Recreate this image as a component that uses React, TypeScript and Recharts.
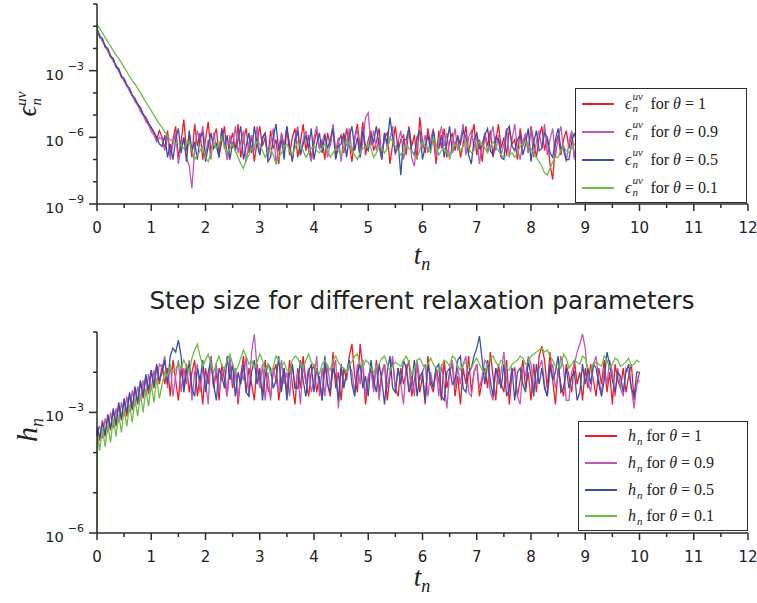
import { Legend, Line, LineChart, XAxis, YAxis } from 'recharts';

// time grid shared by every series (t_n)
const tn = [
  0, 0.01, 0.05, 0.1, 0.15, 0.2, 0.25, 0.3, 0.35, 0.4, 0.45, 0.5, 0.55, 0.6, 0.65, 0.7, 0.75, 0.8, 0.85, 0.9, 0.95, 1.0, 1.05, 1.1, 1.15,
  1.2, 1.25, 1.3, 1.35, 1.4, 1.45, 1.5, 1.55, 1.6, 1.65,
  1.7, 1.75, 1.8, 1.85, 1.9, 1.95, 2.0, 2.05, 2.1, 2.15,
  2.2, 2.25, 2.3, 2.35, 2.4, 2.45, 2.5, 2.55, 2.6, 2.65,
  2.7, 2.75, 2.8, 2.85, 2.9, 2.95, 3.0, 3.05, 3.1, 3.15,
  3.2, 3.25, 3.3, 3.35, 3.4, 3.45, 3.5, 3.55, 3.6, 3.65,
  3.7, 3.75, 3.8, 3.85, 3.9, 3.95, 4.0, 4.05, 4.1, 4.15,
  4.2, 4.25, 4.3, 4.35, 4.4, 4.45, 4.5, 4.55, 4.6, 4.65,
  4.7, 4.75, 4.8, 4.85, 4.9, 4.95, 5.0, 5.05, 5.1, 5.15,
  5.2, 5.25, 5.3, 5.35, 5.4, 5.45, 5.5, 5.55, 5.6, 5.65,
  5.7, 5.75, 5.8, 5.85, 5.9, 5.95, 6.0, 6.05, 6.1, 6.15,
  6.2, 6.25, 6.3, 6.35, 6.4, 6.45, 6.5, 6.55, 6.6, 6.65,
  6.7, 6.75, 6.8, 6.85, 6.9, 6.95, 7.0, 7.05, 7.1, 7.15,
  7.2, 7.25, 7.3, 7.35, 7.4, 7.45, 7.5, 7.55, 7.6, 7.65,
  7.7, 7.75, 7.8, 7.85, 7.9, 7.95, 8.0, 8.05, 8.1, 8.15,
  8.2, 8.25, 8.3, 8.35, 8.4, 8.45, 8.5, 8.55, 8.6, 8.65,
  8.7, 8.75, 8.8, 8.85, 8.9, 8.95, 9.0, 9.05, 9.1, 9.15,
  9.2, 9.25, 9.3, 9.35, 9.4, 9.45, 9.5, 9.55, 9.6, 9.65,
  9.7, 9.75, 9.8, 9.85, 9.9, 9.95, 10.0,
];

// log10 of eps_n^uv
const errTheta1 = [
  -1.2, -1.2, -1.5, -1.6, -1.95, -2.05, -2.4, -2.5, -2.85, -2.95, -3.3, -3.4, -3.7, -3.85, -4.15, -4.3, -4.55, -4.7, -5.0, -5.15, -5.4, -5.6, -5.8, -6.1, -5.7,
  -6.0, -6.5, -5.7, -6.8, -6.1, -5.5, -6.9, -6.2, -5.2, -6.6,
  -5.9, -6.9, -5.4, -6.4, -5.8, -7.0, -6.1, -5.3, -6.7, -6.0,
  -5.6, -6.8, -6.2, -5.5, -7.0, -6.3, -5.8, -6.6, -5.4, -6.9,
  -6.1, -5.6, -6.7, -5.9, -7.1, -6.2, -5.5, -6.4, -6.0, -6.9,
  -5.7, -6.5, -6.1, -7.2, -5.8, -6.4, -5.5, -6.8, -6.0, -5.6,
  -6.9, -6.2, -5.4, -6.6, -5.9, -7.0, -6.3, -5.7, -6.5, -6.1,
  -7.0, -5.8, -6.4, -5.5, -6.9, -6.2, -5.9, -6.7, -5.6, -6.3,
  -7.1, -6.0, -5.4, -6.5, -5.3, -6.8, -6.1, -5.7, -6.6, -6.2,
  -5.6, -6.9, -6.0, -5.8, -7.2, -6.3, -5.5, -6.6, -6.1, -5.9,
  -6.8, -5.5, -6.4, -5.9, -7.0, -5.1, -6.2, -6.7, -5.6, -6.4,
  -6.0, -7.2, -5.7, -6.5, -5.6, -6.9, -6.2, -5.8, -6.6, -5.9,
  -6.9, -6.3, -5.5, -6.7, -6.0, -5.4, -6.8, -6.1, -7.1, -5.8,
  -6.4, -5.7, -6.9, -6.2, -5.4, -6.5, -6.0, -6.8, -5.6, -6.3,
  -6.1, -7.0, -5.6, -6.4, -5.9, -6.7, -5.5, -6.2, -6.9, -6.0,
  -5.5, -6.6, -6.0, -7.2, -7.9, -6.3, -5.9, -6.8, -6.1, -5.7,
  -6.5, -5.8, -6.9, -6.2, -5.6, -6.7, -6.0, -7.0, -5.8, -6.4,
  -6.9, -6.1, -5.5, -6.6, -6.0, -7.0, -5.8, -6.3, -6.0, -6.6,
  -7.0, -5.9, -6.4, -5.8, -6.5, -6.1, -6.2,
];
const errTheta09 = [
  -1.25, -1.25, -1.4, -1.7, -1.85, -2.15, -2.3, -2.6, -2.75, -3.05, -3.2, -3.5, -3.65, -3.95, -4.1, -4.4, -4.55, -4.85, -5.0, -5.3, -5.45, -5.75, -5.9, -6.2, -6.0,
  -6.1, -6.6, -5.9, -7.0, -6.3, -5.8, -7.2, -6.4, -6.0, -6.9,
  -7.3, -8.3, -6.5, -5.7, -6.2, -5.5, -6.8, -6.1, -7.0, -5.8,
  -6.4, -6.9, -5.6, -6.3, -7.0, -5.9, -6.5, -5.5, -6.7, -6.2,
  -5.7, -7.1, -6.3, -5.9, -6.6, -5.5, -6.8, -6.1, -5.8, -7.0,
  -6.2, -5.6, -7.2, -6.4, -5.9, -6.7, -5.6, -6.3, -7.0, -6.0,
  -5.5, -6.8, -6.1, -5.7, -6.6, -7.1, -6.0, -5.5, -6.5, -6.2,
  -5.8, -6.9, -6.3, -5.4, -6.6, -6.0, -7.1, -5.9, -6.4, -5.6,
  -6.7, -6.1, -5.6, -6.9, -6.2, -5.1, -4.9, -6.4, -5.7, -6.6,
  -6.0, -7.0, -5.8, -6.5, -6.1, -5.5, -6.8, -6.2, -5.7, -7.0,
  -6.3, -5.6, -6.9, -7.3, -6.0, -5.7, -6.5, -5.9, -6.7, -6.1,
  -5.6, -6.9, -6.2, -5.5, -6.4, -5.8, -7.0, -6.3, -5.6, -6.6,
  -6.1, -5.4, -6.8, -6.0, -5.7, -6.5, -5.9, -7.2, -6.3, -5.8,
  -6.7, -6.0, -5.5, -6.6, -5.9, -6.8, -6.3, -5.6, -6.9, -6.1,
  -5.4, -6.5, -7.0, -6.2, -5.8, -6.7, -5.6, -6.9, -6.2, -5.7,
  -6.5, -5.4, -6.8, -6.1, -5.6, -6.9, -6.0, -5.5, -6.6, -7.1,
  -6.2, -5.7, -7.0, -6.0, -5.8, -6.6, -5.5, -6.4, -6.8, -6.0,
  -5.6, -7.0, -6.3, -6.1, -5.4, -6.7, -6.2, -5.9, -6.9, -6.3,
  -6.0, -6.6, -6.9, -5.8, -6.0, -6.5, -6.3,
];
const errTheta05 = [
  -1.15, -1.15, -1.45, -1.55, -1.9, -2.0, -2.35, -2.45, -2.8, -2.9, -3.25, -3.35, -3.65, -3.8, -4.1, -4.25, -4.5, -4.65, -4.95, -5.1, -5.35, -5.55, -5.75, -6.0, -6.3,
  -6.4, -5.9, -6.9, -6.3, -7.0, -6.1, -5.6, -6.7, -6.0, -7.1,
  -5.7, -6.6, -6.2, -7.0, -6.0, -5.8, -7.1, -6.4, -5.8, -6.5,
  -6.3, -6.9, -5.6, -6.5, -5.9, -7.0, -6.2, -6.6, -6.1, -5.5,
  -7.0, -6.4, -5.8, -6.7, -5.5, -6.3, -6.8, -6.0, -5.8, -7.1,
  -6.9, -6.0, -5.4, -6.6, -6.1, -7.0, -5.5, -6.4, -7.1, -6.2,
  -5.7, -6.8, -6.3, -5.9, -6.5, -5.6, -7.0, -6.3, -5.8, -6.7,
  -5.9, -6.5, -6.1, -5.6, -7.0, -6.4, -6.3, -5.8, -6.9, -6.0,
  -5.5, -6.6, -6.0, -6.9, -5.7, -6.4, -6.6, -5.9, -6.2, -5.5,
  -6.4, -7.0, -5.8, -6.3, -5.1, -6.0, -6.7, -6.2, -7.7, -6.1,
  -6.1, -5.6, -6.6, -6.8, -6.0, -5.7, -7.0, -6.4, -5.9, -6.6,
  -5.7, -6.4, -6.5, -5.9, -6.9, -6.2, -5.5, -6.7, -6.3, -6.0,
  -6.3, -5.7, -6.0, -6.8, -7.2, -6.1, -5.8, -6.5, -6.4, -5.9,
  -5.6, -6.6, -6.8, -6.0, -6.1, -6.9, -7.0, -5.7, -5.5, -6.4,
  -6.6, -6.1, -5.9, -6.8, -6.3, -5.6, -7.1, -6.2, -5.7, -6.6,
  -6.5, -5.8, -6.0, -6.7, -6.9, -6.1, -5.6, -6.5, -6.4, -7.0,
  -7.0, -6.2, -5.8, -6.4, -6.6, -5.9, -6.1, -6.8, -5.5, -6.3,
  -6.8, -6.0, -5.9, -6.6, -6.5, -7.0, -7.0, -6.1, -5.7, -6.5,
  -6.3, -5.8, -6.0, -6.7, -6.7, -6.1, -6.2,
];
const errTheta01 = [
  -5.0, -0.95, -1.1, -1.3, -1.5, -1.7, -1.9, -2.1, -2.3, -2.45, -2.65, -2.85, -3.05, -3.25, -3.45, -3.6, -3.8, -4.0, -4.2, -4.4, -4.6, -4.8, -5.0, -5.2, -5.4,
  -5.55, -5.75, -5.95, -6.1, -6.2, -6.25, -6.3, -6.35, -6.5, -6.3,
  -6.2, -6.6, -7.0, -6.8, -6.6, -6.4, -6.9, -7.1, -6.7, -6.2,
  -6.5, -6.3, -6.0, -6.4, -6.7, -6.5, -6.3, -6.6, -6.9, -7.2,
  -7.4, -7.0, -6.8, -6.5, -6.4, -6.2, -6.3, -6.6, -6.9, -6.6,
  -6.5, -6.8, -7.2, -6.9, -6.7, -6.4, -6.3, -6.6, -6.8, -6.5,
  -6.2, -6.4, -6.6, -6.9, -6.7, -6.5, -6.4, -6.6, -6.7, -6.5,
  -6.3, -6.6, -6.9, -6.7, -6.5, -6.6, -6.8, -6.5, -6.1, -6.3,
  -6.6, -6.8, -7.0, -6.7, -6.5, -6.4, -6.3, -6.5, -6.9, -6.7,
  -6.4, -6.5, -6.7, -6.5, -6.0, -6.2, -6.4, -6.6, -6.8, -6.6,
  -6.3, -6.5, -6.6, -6.8, -6.9, -6.6, -6.2, -6.4, -6.5, -6.7,
  -6.0, -6.3, -6.8, -6.6, -6.5, -6.7, -6.9, -6.6, -6.3, -6.5,
  -6.6, -6.4, -6.2, -6.5, -6.7, -6.6, -6.4, -6.2, -6.3, -6.5,
  -6.7, -6.4, -6.2, -6.4, -6.6, -6.8, -6.9, -6.8, -6.8, -6.7,
  -6.9, -6.7, -6.4, -6.3, -6.2, -6.4, -6.5, -6.7, -6.9, -7.1,
  -7.3, -7.6, -7.7, -7.4, -7.1, -6.9, -6.9, -6.6, -6.4, -6.6,
  -6.7, -6.5, -6.3, -6.5, -6.6, -6.4, -6.4, -6.6, -6.8, -6.5,
  -6.5, -6.3, -6.2, -6.4, -6.7, -6.5, -6.4, -6.6, -6.9, -6.7,
  -6.5, -6.3, -6.4, -6.6, -6.5, -6.4, -6.4,
];

// log10 of h_n
const stepTheta1 = [
  -3.6, -3.4, -3.7, -3.2, -3.6, -3.1, -3.45, -2.95, -3.35, -2.8, -3.2, -2.7, -3.1, -2.55, -2.95, -2.4, -2.8, -2.25, -2.65, -2.1, -2.55, -1.95, -2.4, -1.85, -2.3,
  -1.8, -2.3, -1.9, -2.6, -1.7, -2.2, -2.7, -1.9, -2.4, -1.8,
  -2.5, -2.0, -1.7, -2.6, -2.1, -2.8, -1.9, -2.3, -1.6, -2.4,
  -2.0, -2.7, -1.8, -2.2, -2.6, -1.7, -2.4, -1.9, -2.8, -2.1,
  -1.6, -2.5, -1.9, -2.3, -2.7, -1.8, -2.2, -2.5, -1.7, -2.4,
  -2.6, -2.0, -1.8, -2.7, -2.2, -1.9, -2.5, -1.7, -2.3, -2.8,
  -1.9, -2.4, -1.6, -2.2, -2.6, -2.0, -1.8, -2.5, -2.1, -2.7,
  -1.8, -2.3, -2.6, -1.5, -2.4, -2.0, -2.7, -1.9, -2.2, -1.6,
  -1.3, -2.1, -2.5, -1.3, -1.9, -2.8, -2.2, -1.8, -2.4, -1.7,
  -2.5, -2.0, -1.8, -2.7, -2.1, -1.7, -2.4, -2.6, -1.9, -2.3,
  -2.0, -1.7, -2.6, -2.2, -1.8, -2.5, -2.1, -2.8, -1.6, -2.3,
  -2.5, -1.9, -2.2, -2.7, -1.7, -2.4, -2.0, -1.8, -2.6, -2.1,
  -2.8, -1.9, -2.3, -1.6, -2.5, -2.0, -1.8, -2.6, -2.2, -1.9,
  -2.4, -1.5, -2.1, -2.7, -1.8, -2.3, -2.5, -1.7, -2.8, -2.0,
  -1.9, -2.6, -2.2, -1.7, -2.4, -2.0, -2.7, -1.8, -2.5, -1.6,
  -1.35, -1.7, -2.4, -1.5, -2.2, -2.8, -1.9, -2.3, -2.6, -1.8,
  -2.1, -2.5, -1.7, -2.3, -2.0, -2.7, -1.9, -2.4, -1.8, -2.2,
  -2.6, -1.9, -2.3, -1.7, -2.5, -2.0, -2.8, -1.8, -2.2, -2.4,
  -1.9, -2.5, -2.1, -1.8, -2.7, -2.3, -2.0,
];
const stepTheta09 = [
  -3.6, -3.45, -3.35, -3.65, -3.15, -3.5, -3.0, -3.4, -2.9, -3.25, -2.75, -3.1, -2.6, -3.0, -2.45, -2.85, -2.35, -2.7, -2.2, -2.6, -2.05, -2.45, -1.95, -2.3, -1.8,
  -1.9, -1.6, -2.4, -1.8, -2.6, -2.1, -1.7, -2.5, -1.9, -2.3,
  -1.7, -2.7, -2.0, -1.8, -2.5, -1.9, -2.2, -2.8, -1.6, -2.4,
  -1.8, -2.5, -2.1, -1.9, -2.6, -1.6, -2.3, -1.9, -2.7, -2.0,
  -2.2, -1.6, -2.6, -1.5, -1.05, -1.9, -2.4, -1.8, -2.7, -2.0,
  -2.7, -1.9, -2.2, -2.5, -1.7, -2.3, -2.0, -2.6, -1.8, -2.4,
  -2.0, -2.8, -1.8, -2.3, -1.9, -2.5, -2.2, -1.6, -2.6, -1.9,
  -2.6, -1.8, -2.4, -2.0, -1.7, -2.9, -1.9, -2.3, -2.1, -1.8,
  -2.0, -2.5, -1.8, -2.3, -1.7, -2.6, -2.1, -1.9, -2.5, -1.8,
  -2.7, -2.1, -1.8, -2.4, -2.0, -1.6, -2.5, -1.9, -2.3, -2.8,
  -1.8, -2.4, -2.1, -2.6, -1.7, -2.2, -2.0, -1.8, -2.6, -2.0,
  -2.4, -1.9, -2.6, -1.8, -2.3, -2.9, -2.0, -1.7, -2.4, -1.9,
  -2.3, -1.8, -1.6, -2.5, -2.6, -2.0, -1.8, -2.4, -2.1, -1.7,
  -1.8, -2.5, -2.7, -1.9, -2.3, -2.0, -1.5, -2.2, -2.5, -1.9,
  -2.0, -2.6, -2.8, -1.9, -2.1, -1.6, -1.8, -2.4, -2.3, -1.9,
  -1.7, -2.3, -2.6, -2.0, -1.8, -2.4, -2.1, -1.6, -1.9, -2.7,
  -2.7, -2.0, -1.8, -1.5, -1.3, -1.05, -1.4, -2.2, -2.5, -1.8,
  -1.6, -2.2, -2.5, -1.9, -2.3, -1.7, -2.0, -2.6, -1.9, -2.4,
  -2.6, -1.9, -2.0, -2.4, -2.9, -2.3, -2.2,
];
const stepTheta05 = [
  -3.55, -3.35, -3.65, -3.25, -3.55, -3.05, -3.4, -2.9, -3.3, -2.75, -3.15, -2.65, -3.0, -2.5, -2.9, -2.35, -2.75, -2.2, -2.6, -2.05, -2.45, -1.95, -2.35, -1.8, -2.2,
  -2.0, -1.7, -2.3, -1.6, -1.4, -1.5, -1.2, -1.6, -2.5, -2.0,
  -1.8, -2.4, -2.6, -1.9, -2.2, -1.7, -2.5, -2.0, -1.7, -2.3,
  -2.7, -1.9, -2.1, -2.4, -1.6, -2.2, -1.8, -2.6, -2.0, -2.3,
  -1.8, -2.5, -2.6, -2.0, -1.7, -2.3, -1.9, -2.7, -2.1, -1.8,
  -1.9, -2.4, -2.2, -1.6, -2.5, -1.9, -2.7, -2.0, -1.8, -2.4,
  -2.4, -1.7, -2.2, -2.6, -2.0, -1.8, -2.5, -1.9, -2.2, -2.7,
  -1.6, -2.3, -2.5, -1.9, -2.1, -2.7, -1.8, -2.4, -2.0, -1.7,
  -2.3, -2.6, -2.0, -1.8, -2.4, -2.1, -2.6, -1.7, -2.2, -2.5,
  -1.8, -2.2, -2.8, -2.0, -1.6, -2.4, -2.5, -1.9, -2.3, -1.7,
  -1.9, -2.5, -2.3, -1.7, -2.6, -2.1, -2.0, -2.7, -1.8, -2.2,
  -2.4, -1.9, -1.8, -2.6, -2.7, -2.0, -1.9, -2.3, -2.2, -1.7,
  -1.6, -2.4, -2.5, -2.0, -1.9, -1.6, -1.4, -1.1, -1.7, -2.3,
  -1.7, -2.2, -2.6, -1.9, -2.1, -2.4, -1.8, -2.6, -2.4, -1.9,
  -2.7, -2.0, -1.9, -2.3, -2.5, -1.7, -2.1, -2.6, -1.8, -2.3,
  -1.9, -2.4, -2.6, -1.8, -2.2, -2.0, -1.6, -2.5, -2.4, -1.9,
  -2.4, -2.1, -2.0, -2.7, -2.5, -1.8, -2.3, -1.9, -2.3, -1.8,
  -1.9, -2.3, -2.6, -2.2, -1.5, -1.8, -2.2, -2.5, -2.0, -2.1,
  -2.5, -2.0, -1.8, -2.4, -2.6, -2.0, -2.0,
];
const stepTheta01 = [
  -6.0, -3.55, -3.95, -3.4, -3.85, -3.3, -3.75, -3.15, -3.6, -3.05, -3.5, -2.9, -3.35, -2.8, -3.25, -2.65, -3.1, -2.55, -3.0, -2.4, -2.85, -2.3, -2.75, -2.15, -2.65,
  -2.3, -2.0, -2.1, -1.85, -2.0, -1.95, -1.75, -1.9, -1.7, -1.85,
  -2.0, -1.65, -1.45, -1.3, -1.6, -1.85, -1.7, -1.55, -1.8, -2.0,
  -1.75, -1.6, -1.85, -1.9, -1.7, -1.55, -1.8, -2.0, -1.85, -1.65,
  -1.45, -1.6, -1.8, -1.7, -1.9, -1.75, -1.55, -1.7, -1.95, -1.8,
  -2.05, -1.85, -1.6, -1.7, -1.85, -1.75, -1.95, -2.0, -1.7, -1.6,
  -1.65, -1.8, -1.9, -1.7, -1.55, -1.75, -1.85, -1.95, -2.05, -1.8,
  -1.7, -1.85, -1.95, -1.7, -1.6, -1.75, -1.85, -1.9, -2.0, -1.8,
  -1.75, -1.6, -1.55, -1.8, -1.9, -1.7, -1.75, -1.9, -2.0, -1.85,
  -1.8, -1.65, -1.6, -1.8, -1.95, -1.85, -1.75, -1.8, -1.85, -1.7,
  -1.6, -1.75, -2.05, -1.9, -1.7, -1.65, -1.8, -1.9, -1.8, -1.65,
  -1.8, -1.9, -2.0, -1.85, -1.7, -1.75, -1.85, -1.6, -1.65, -1.85,
  -1.95, -1.8, -1.75, -1.85, -1.9, -1.75, -1.65, -1.8, -1.95, -2.0,
  -1.8, -1.65, -1.6, -1.75, -1.85, -1.7, -1.75, -1.9, -1.95, -1.8,
  -1.75, -1.7, -1.6, -1.65, -1.8, -1.75, -1.6, -1.55, -1.5, -1.45,
  -1.4, -1.5, -1.45, -1.6, -1.7, -1.85, -1.8, -1.9, -1.55, -1.65,
  -1.9, -1.8, -1.7, -1.75, -1.8, -1.6, -1.65, -1.9, -1.95, -1.8,
  -1.75, -1.8, -1.85, -1.6, -1.7, -1.9, -1.8, -1.65, -1.7, -1.85,
  -1.8, -1.75, -1.65, -1.85, -1.8, -1.7, -1.75,
];

const thetaLabels = ['1', '0.9', '0.5', '0.1'];
const seriesKeys = ['theta1', 'theta09', 'theta05', 'theta01'];
const seriesColors = ['#ee1c25', '#c158bb', '#3a50a6', '#6cbd45'];

const xTicks = [0, 0.5, 1, 1.5, 2, 2.5, 3, 3.5, 4, 4.5, 5, 5.5, 6, 6.5, 7, 7.5, 8, 8.5, 9, 9.5, 10, 10.5, 11, 11.5, 12];
const errDecades = [-9, -8, -7, -6, -5, -4, -3, -2, -1, 0];
const stepDecades = [-6, -5, -4, -3, -2, -1];
const labelledDecades = [-9, -6, -3];

const errRows = tn.map((t, i) => ({
  t,
  theta1: errTheta1[i],
  theta09: errTheta09[i],
  theta05: errTheta05[i],
  theta01: errTheta01[i],
}));
const stepRows = tn.map((t, i) => ({
  t,
  theta1: stepTheta1[i],
  theta09: stepTheta09[i],
  theta05: stepTheta05[i],
  theta01: stepTheta01[i],
}));

const AXIS = '#2b2b2b';
const SANS = 'DejaVu Sans, sans-serif';
const SERIF = 'Liberation Serif, DejaVu Serif, serif';

function XTick({ x, y, payload }: any) {
  const v = payload.value;
  const major = Number.isInteger(v);
  return (
    <g>
      <line x1={x} y1={y} x2={x} y2={y + (major ? 7 : 4)} stroke={AXIS} strokeWidth={1.5} />
      {major && (
        <text x={x} y={y + 29} textAnchor="middle" fontFamily={SANS} fontSize={15} fill="#222">
          {v}
        </text>
      )}
    </g>
  );
}

function YTick({ x, y, payload }: any) {
  const v = payload.value;
  const major = labelledDecades.includes(v);
  return (
    <g>
      <line x1={x - (major ? 8 : 4)} y1={y} x2={x} y2={y} stroke={AXIS} strokeWidth={1.5} />
      {major && (
        <text x={x - 13} y={y + 9} textAnchor="end" fontFamily={SANS} fontSize={14.5} fill="#222">
          10
          <tspan dx={4} dy={-10} fontSize={11}>
            {'\u2212' + Math.abs(v)}
          </tspan>
        </text>
      )}
    </g>
  );
}

function ErrSymbol() {
  return (
    <span style={{ fontStyle: 'italic' }}>
      ϵ
      <span style={{ position: 'relative', display: 'inline-block', width: 15, height: 10 }}>
        <span style={{ position: 'absolute', left: 1, top: -9, fontSize: 11 }}>uv</span>
        <span style={{ position: 'absolute', left: 1, top: 3, fontSize: 11 }}>n</span>
      </span>
    </span>
  );
}

function StepSymbol() {
  return (
    <span style={{ fontStyle: 'italic' }}>
      h<span style={{ fontSize: 11, position: 'relative', top: 4, marginLeft: 1 }}>n</span>
    </span>
  );
}

function makeLegend(kind: 'err' | 'step', rowHeight: number, padTop: number) {
  return function LegendBox({ payload }: any) {
    const items = (payload ?? [])
      .slice()
      .sort((a: any, b: any) => seriesKeys.indexOf(a.dataKey) - seriesKeys.indexOf(b.dataKey));
    return (
      <div
        style={{
          border: `1.5px solid ${AXIS}`,
          background: '#fff',
          boxSizing: 'border-box',
          width: '100%',
          height: '100%',
          paddingTop: padTop,
        }}
      >
        {items.map((p: any) => {
          const i = seriesKeys.indexOf(p.dataKey);
          return (
            <div key={p.dataKey} style={{ height: rowHeight, display: 'flex', alignItems: 'center' }}>
              <span style={{ width: 32, height: 2, background: seriesColors[i], marginLeft: 6 }} />
              <span style={{ marginLeft: 11, fontFamily: SERIF, fontSize: 16, color: '#222', whiteSpace: 'nowrap' }}>
                {kind === 'err' ? <ErrSymbol /> : <StepSymbol />} for <i>θ</i> = {thetaLabels[i]}
              </span>
            </div>
          );
        })}
      </div>
    );
  };
}

const ErrLegend = makeLegend('err', 28, 1);
const StepLegend = makeLegend('step', 26.7, 1);

function series() {
  return seriesKeys.map((k, i) => (
    <Line
      key={k}
      type="linear"
      dataKey={k}
      name={`θ = ${thetaLabels[i]}`}
      stroke={seriesColors[i]}
      strokeWidth={1.3}
      dot={false}
      activeDot={false}
      isAnimationActive={false}
    />
  ));
}

export default function App() {
  return (
    <div style={{ position: 'absolute', left: 0, top: 0, width: 757, height: 603, background: '#fff' }}>
      <div style={{ position: 'absolute', left: 0, top: 0 }}>
        <LineChart width={757} height={280} data={errRows} margin={{ top: 4, right: 9, bottom: 36, left: 0 }}>
          <XAxis
            dataKey="t"
            type="number"
            domain={[0, 12]}
            ticks={xTicks}
            interval={0}
            height={40}
            tickSize={0}
            tickMargin={0}
            tickLine={false}
            tick={<XTick />}
            axisLine={{ stroke: AXIS, strokeWidth: 1.5 }}
          />
          <YAxis
            type="number"
            domain={[-9, 0]}
            ticks={errDecades}
            interval={0}
            width={97}
            allowDataOverflow
            tickSize={0}
            tickMargin={0}
            tickLine={false}
            tick={<YTick />}
            axisLine={{ stroke: AXIS, strokeWidth: 1.5 }}
          />
          {series()}
          <Legend
            layout="vertical"
            align="center"
            verticalAlign="middle"
            content={<ErrLegend />}
            wrapperStyle={{ left: 575, top: 88, width: 172, height: 115 }}
          />
        </LineChart>
      </div>
      <div style={{ position: 'absolute', left: 0, top: 290 }}>
        <LineChart width={757} height={313} data={stepRows} margin={{ top: 42, right: 9, bottom: 30, left: 0 }}>
          <XAxis
            dataKey="t"
            type="number"
            domain={[0, 12]}
            ticks={xTicks}
            interval={0}
            height={40}
            tickSize={0}
            tickMargin={0}
            tickLine={false}
            tick={<XTick />}
            axisLine={{ stroke: AXIS, strokeWidth: 1.5 }}
          />
          <YAxis
            type="number"
            domain={[-6, -1]}
            ticks={stepDecades}
            interval={0}
            width={97}
            allowDataOverflow
            tickSize={0}
            tickMargin={0}
            tickLine={false}
            tick={<YTick />}
            axisLine={{ stroke: AXIS, strokeWidth: 1.5 }}
          />
          {series()}
          <Legend
            layout="vertical"
            align="center"
            verticalAlign="middle"
            content={<StepLegend />}
            wrapperStyle={{ left: 578, top: 131, width: 170, height: 110 }}
          />
        </LineChart>
      </div>
      <svg
        width={757}
        height={603}
        style={{ position: 'absolute', left: 0, top: 0, pointerEvents: 'none' }}
      >
        <text x={422} y={309} textAnchor="middle" fontFamily={SANS} fontSize={24.5} fill="#222">
          Step size for different relaxation parameters
        </text>
        <text x={422} y={264} textAnchor="middle" fontFamily={SERIF} fontStyle="italic" fontSize={27} fill="#222">
          t<tspan dy={6} fontSize={18}>n</tspan>
        </text>
        <text x={422} y={586} textAnchor="middle" fontFamily={SERIF} fontStyle="italic" fontSize={27} fill="#222">
          t<tspan dy={6} fontSize={18}>n</tspan>
        </text>
        <text
          transform="translate(36,104) rotate(-90)"
          textAnchor="middle"
          fontFamily={SERIF}
          fontStyle="italic"
          fontSize={27}
          fill="#222"
        >
          ϵ<tspan dy={-10} fontSize={15}>uv</tspan>
          <tspan dx={-14} dy={15} fontSize={15}>n</tspan>
        </text>
        <text
          transform="translate(37,430) rotate(-90)"
          textAnchor="middle"
          fontFamily={SERIF}
          fontStyle="italic"
          fontSize={30}
          fill="#222"
        >
          h<tspan dy={6} fontSize={18}>n</tspan>
        </text>
      </svg>
    </div>
  );
}
